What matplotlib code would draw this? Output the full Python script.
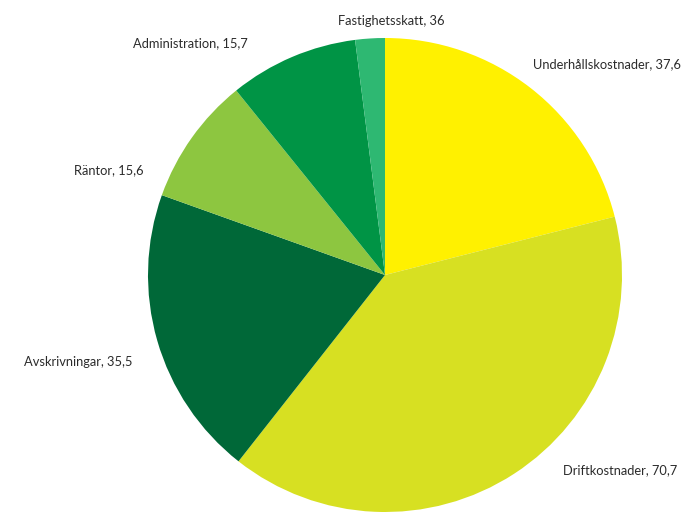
import matplotlib
matplotlib.use("Agg")
import matplotlib.pyplot as plt

# cost breakdown (MSEK)
categories = ["Underhållskostnader", "Driftkostnader", "Avskrivningar",
              "Räntor", "Administration", "Fastighetsskatt"]
values = [37.6, 70.7, 35.5, 15.6, 15.7, 3.6]
value_text = ["37,6", "70,7", "35,5", "15,6", "15,7", "36"]
colors = ["#FFF100", "#D7E022", "#006838", "#8DC640", "#009445", "#2EB872"]

# label anchor points (left edge, vertical centre) in pixels from top-left
label_pos = [(533, 64), (563, 470), (24, 362), (74, 170), (133, 43), (338, 21)]

W, H = 684, 512
fig = plt.figure(figsize=(W / 100, H / 100), dpi=100)
ax = fig.add_axes([0, 0, 1, 1])

ax.pie(values, colors=colors, startangle=90, counterclock=False,
       center=(385, H - 275), radius=237, frame=True,
       wedgeprops=dict(linewidth=0))
ax.set_xlim(0, W)
ax.set_ylim(0, H)
ax.set_aspect("equal")
ax.axis("off")

for name, txt, (x, y) in zip(categories, value_text, label_pos):
    ax.text(x, H - y, f"{name}, {txt}", ha="left", va="center",
            fontsize=9.3, color="#2b2b2b", family="Lato")

fig.savefig("out.png", dpi=100)
